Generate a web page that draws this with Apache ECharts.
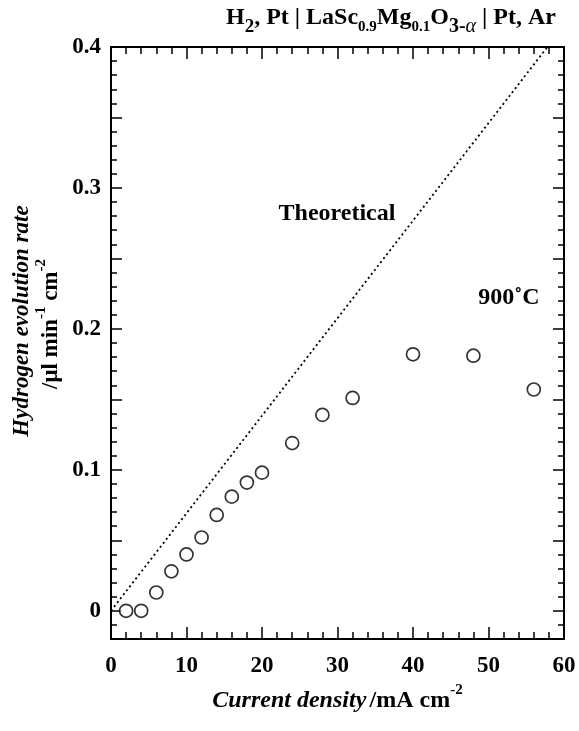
<!DOCTYPE html>
<html><head><meta charset="utf-8">
<script src="https://cdn.jsdelivr.net/npm/echarts@6/dist/echarts.min.js"></script>
<style>html,body{margin:0;padding:0;background:#fff}#c{width:579px;height:731px}</style>
</head><body><div id="c"></div>
<script>
// ---- data ----
const currentDensity = [2, 4, 6, 8, 10, 12, 14, 16, 18, 20, 24, 28, 32, 40, 48, 56];
const evolutionRate = [0, 0, 0.013, 0.028, 0.040, 0.052, 0.068, 0.081, 0.091, 0.098, 0.119, 0.139, 0.151, 0.182, 0.181, 0.157];
const theoreticalX = [0, 57.8];
const theoreticalY = [0, 0.4];
const yLabelValues = [0, 0.1, 0.2, 0.3, 0.4];
const yMajorTicks = [0, 0.05, 0.1, 0.15, 0.2, 0.25, 0.3, 0.35, 0.4];
const yMinorTicks = [-0.01, 0.01, 0.02, 0.03, 0.04, 0.06, 0.07, 0.08, 0.09, 0.11, 0.12, 0.13, 0.14, 0.16, 0.17, 0.18, 0.19,
  0.21, 0.22, 0.23, 0.24, 0.26, 0.27, 0.28, 0.29, 0.31, 0.32, 0.33, 0.34, 0.36, 0.37, 0.38, 0.39];
const yTickLabels = ['0', '0.1', '0.2', '0.3', '0.4'];

const FONT = '"Liberation Serif", "Times New Roman", serif';
const chart = echarts.init(document.getElementById('c'), null, {renderer: 'canvas'});

function xAx(pos, labels) {
  return {
    type: 'value', position: pos, min: 0, max: 60, interval: 10,
    axisLine: {show: true, onZero: false, lineStyle: {color: '#000', width: 2}},
    axisTick: {show: true, inside: true, length: 12, lineStyle: {color: '#000', width: 1.5}},
    minorTick: {show: true, splitNumber: 5, length: 7, lineStyle: {color: '#000', width: 1.5}},
    axisLabel: {show: labels, margin: 16, color: '#000', fontFamily: FONT, fontWeight: 'bold', fontSize: 23},
    splitLine: {show: false}, minorSplitLine: {show: false}
  };
}
function yAx(pos, ticks, len, labels) {
  return {
    type: 'value', position: pos, min: -0.02, max: 0.4,
    axisLine: {show: true, onZero: false, lineStyle: {color: '#000', width: 2}},
    axisTick: {show: true, inside: true, length: len, customValues: ticks, lineStyle: {color: '#000', width: 1.5}},
    axisLabel: {show: labels, customValues: yLabelValues, margin: 10, color: '#000', fontFamily: FONT, fontWeight: 'bold', fontSize: 23,
      formatter: v => yTickLabels[yLabelValues.findIndex(t => Math.abs(t - v) < 1e-9)] || ''},
    splitLine: {show: false}
  };
}

const base = {fontFamily: FONT, fontWeight: 'bold', color: '#000'};
chart.setOption({
  animation: false,
  backgroundColor: '#fff',
  grid: {left: 111, right: 15, top: 47, bottom: 92, containLabel: false},
  xAxis: [
    Object.assign(xAx('bottom', true), {
      name: '{i|Current density} {b|/mA cm}{s|-2}', nameLocation: 'middle', nameGap: 42,
      nameTextStyle: {rich: {
        i: Object.assign({}, base, {fontStyle: 'italic', fontSize: 24, lineHeight: 26, padding: [6, 0, 0, 0], verticalAlign: 'top'}),
        b: Object.assign({}, base, {fontSize: 24, lineHeight: 26, padding: [6, 0, 0, 0], verticalAlign: 'top'}),
        s: Object.assign({}, base, {fontSize: 15, lineHeight: 15, verticalAlign: 'top'})
      }}
    }),
    xAx('top', false)
  ],
  yAxis: [
    yAx('left', yMinorTicks, 6, true),
    yAx('left', yMajorTicks, 11, false),
    yAx('right', yMinorTicks, 6, false),
    yAx('right', yMajorTicks, 11, false)
  ],
  series: [
    {
      type: 'line', xAxisIndex: 0, yAxisIndex: 0,
      data: theoreticalX.map((x, i) => [x, theoreticalY[i]]),
      showSymbol: false, symbol: 'none',
      lineStyle: {color: '#000', width: 1.8, type: [2, 3]}
    },
    {
      type: 'scatter', xAxisIndex: 0, yAxisIndex: 0,
      data: currentDensity.map((x, i) => [x, evolutionRate[i]]),
      symbol: 'circle', symbolSize: 13,
      itemStyle: {color: '#fff', borderColor: '#000', borderWidth: 1.7}
    }
  ],
  graphic: [
    {
      type: 'text', x: 391, y: 19,
      style: {
        text: '{m|H}{d2|2}{m|, Pt | LaSc}{d|0.9}{m|Mg}{d|0.1}{m|O}{e|3-}{a|α}{m| | Pt, Ar}',
        align: 'center', verticalAlign: 'middle', textAlign: 'center', textVerticalAlign: 'middle',
        rich: {
          m: Object.assign({}, base, {fill: '#000', fontSize: 24, lineHeight: 26, verticalAlign: 'top'}),
          d2: Object.assign({}, base, {fill: '#000', fontSize: 19, lineHeight: 19, padding: [12, 0, 0, 0], verticalAlign: 'top'}),
          d: Object.assign({}, base, {fill: '#000', fontSize: 15, lineHeight: 15, padding: [14, 0, 0, 0], verticalAlign: 'top'}),
          e: Object.assign({}, base, {fill: '#000', fontSize: 20, lineHeight: 20, padding: [11, 0, 0, 0], verticalAlign: 'top'}),
          a: Object.assign({}, base, {fill: '#000', fontSize: 20, fontStyle: 'italic', fontWeight: 'normal', lineHeight: 20, padding: [11, 0, 0, 0], verticalAlign: 'top'})
        }
      }
    },
    {
      type: 'text', x: 22, y: 321, rotation: Math.PI / 2,
      style: {
        text: '{i|Hydrogen evolution rate}',
        align: 'center', verticalAlign: 'middle', textAlign: 'center', textVerticalAlign: 'middle',
        rich: {i: Object.assign({}, base, {fill: '#000', fontStyle: 'italic', fontSize: 23, lineHeight: 25})}
      }
    },
    {
      type: 'text', x: 46, y: 324, rotation: Math.PI / 2,
      style: {
        text: '{b|/μl min}{s|-1}{b| cm}{s|-2}',
        align: 'center', verticalAlign: 'middle', textAlign: 'center', textVerticalAlign: 'middle',
        rich: {
          b: Object.assign({}, base, {fill: '#000', fontSize: 23, lineHeight: 25, padding: [6, 0, 0, 0], verticalAlign: 'top'}),
          s: Object.assign({}, base, {fill: '#000', fontSize: 15, lineHeight: 15, verticalAlign: 'top'})
        }
      }
    },
    {
      type: 'text', x: 337, y: 214,
      style: Object.assign({}, base, {text: 'Theoretical', fill: '#000', fontSize: 24,
        align: 'center', verticalAlign: 'middle', textAlign: 'center', textVerticalAlign: 'middle'})
    },
    {
      type: 'text', x: 509, y: 298,
      style: Object.assign({}, base, {text: '900˚C', fill: '#000', fontSize: 24,
        align: 'center', verticalAlign: 'middle', textAlign: 'center', textVerticalAlign: 'middle'})
    }
  ]
});
</script>
</body></html>
